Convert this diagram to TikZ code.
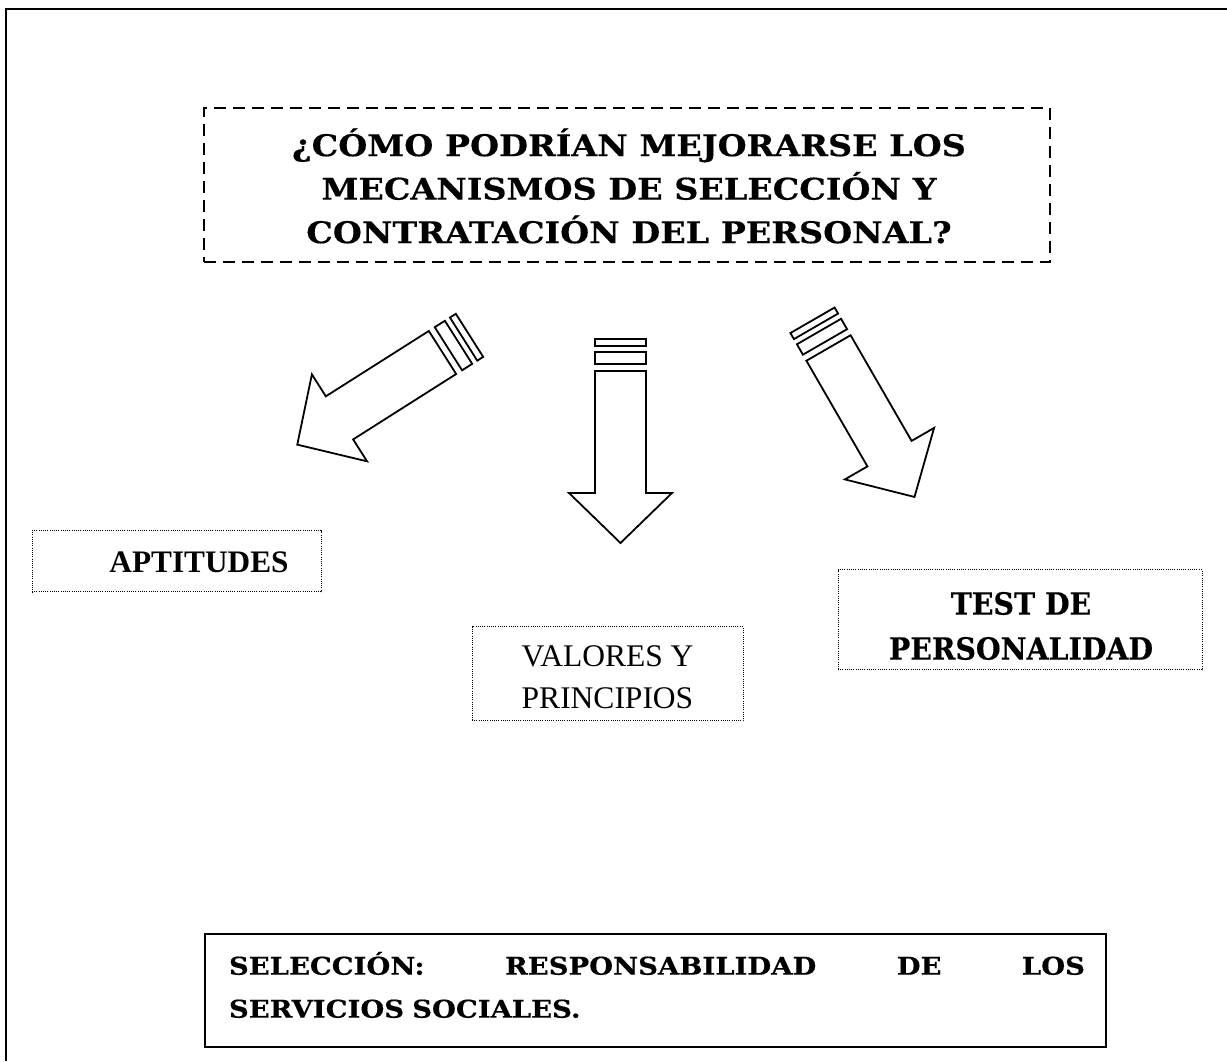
\documentclass[tikz,border=0pt]{standalone}
\usepackage{fontspec}
\setmainfont{Liberation Serif}
\newfontfamily\bkwide{DejaVu Serif}[FakeStretch=1.12, BoldFeatures={FakeBold=0.4}]
\newfontfamily\bknarrow{DejaVu Serif}[FakeStretch=0.93, BoldFeatures={FakeBold=0.4}]
\tikzset{
  frameline/.style={line width=2.5pt},
  dashbox/.style={draw, line width=1.4pt, dash pattern=on 12pt off 7pt, inner sep=0pt},
  dotbox/.style={draw, line width=1pt, dash pattern=on 1pt off 1.2pt, inner sep=0pt},
  solidbox/.style={draw, line width=1.4pt, inner sep=0pt},
  arrowshape/.style={draw, line width=1.8pt, line join=miter, fill=white},
  titlefont/.style={font=\bkwide\bfseries\fontsize{29.8}{43.5}\selectfont},
  testfont/.style={font=\bknarrow\bfseries\fontsize{30.5}{45}\selectfont},
  bottomfont/.style={font=\bkwide\bfseries\fontsize{24.5}{43}\selectfont},
}
\newcommand\hollowarrow[3]{%
  \begin{scope}[shift={(#1,#2)}, rotate=#3]
    \draw[arrowshape] (0,25.5) -- (122,25.5) -- (122,51.5) -- (172,0) -- (122,-51.5) -- (122,-25.5) -- (0,-25.5) -- cycle;
    \draw[arrowshape] (-19,-25.5) rectangle (-7,25.5);
    \draw[arrowshape] (-32,-25.5) rectangle (-25,25.5);
  \end{scope}}
\begin{document}
\begin{tikzpicture}[x=1pt,y=1pt]
\useasboundingbox (0,0) rectangle (1227,1061);
% outer frame (only top and left visible)
\draw[frameline] (6,0) -- (6,1052) -- (1227,1052);
% title
\node[dashbox, minimum width=846pt, minimum height=154pt] (titlebox) at (627,876) {};
\node[titlefont, align=center] (title) at (629,875)
  {¿CÓMO PODRÍAN MEJORARSE LOS\\MECANISMOS DE SELECCIÓN Y\\CONTRATACIÓN DEL PERSONAL?};
% arrows
\hollowarrow{442.5}{708.5}{212.4}
\hollowarrow{620.5}{690}{-90}
\hollowarrow{828.5}{713}{-60}
% APTITUDES
\node[dotbox, minimum width=289pt, minimum height=61pt] (aptbox) at (176.5,499.5) {};
\node[font=\bfseries\fontsize{31.3}{36}\selectfont] (apt) at (199,499) {APTITUDES};
% VALORES Y PRINCIPIOS
\node[dotbox, minimum width=271pt, minimum height=94pt] (valbox) at (607.5,387) {};
\node[font=\fontsize{31.5}{42}\selectfont, align=center] (val) at (607.5,384) {VALORES Y\\PRINCIPIOS};
% TEST DE PERSONALIDAD
\node[dotbox, minimum width=364pt, minimum height=100pt] (testbox) at (1020,441) {};
\node[testfont, align=center] (test) at (1021,435) {TEST DE\\PERSONALIDAD};
% bottom box
\node[solidbox, minimum width=901pt, minimum height=113pt] (selbox) at (655.5,70.5) {};
\node[bottomfont, text width=856pt, align=left, inner sep=0pt] (sel) at (657,76)
  {\hbox to 856pt{SELECCIÓN:\hfill RESPONSABILIDAD\hfill DE\hfill LOS}\\SERVICIOS SOCIALES.};
\end{tikzpicture}
\end{document}
